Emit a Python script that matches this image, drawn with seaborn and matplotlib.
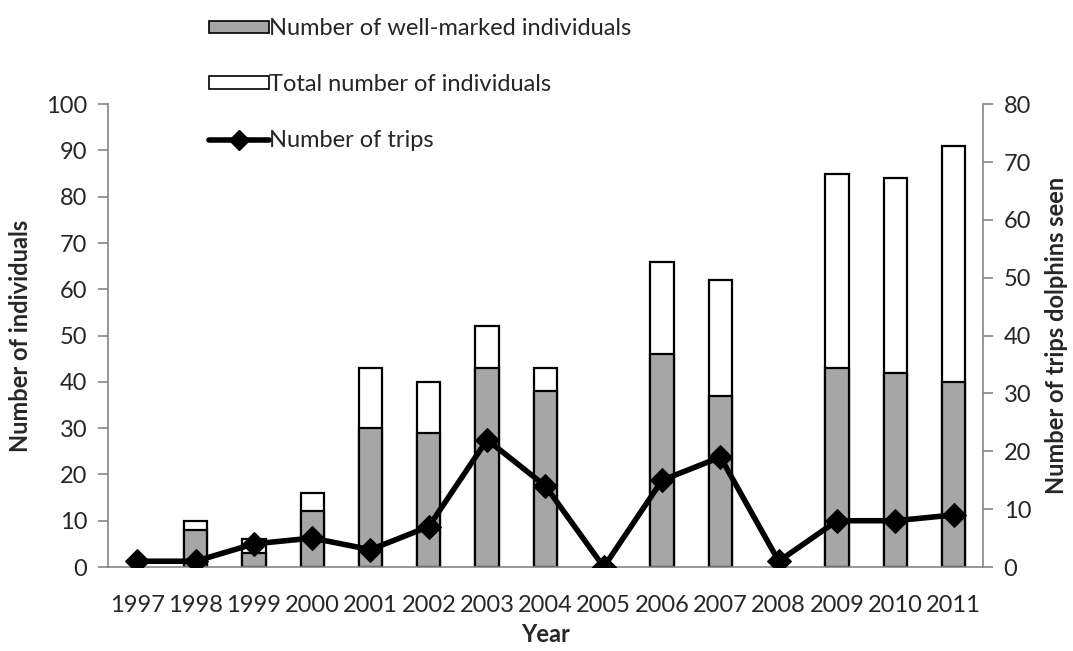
import matplotlib
matplotlib.use("Agg")
import matplotlib.pyplot as plt
from matplotlib.lines import Line2D
from matplotlib.patches import Patch
import numpy as np
import pandas as pd
import seaborn as sns

# data
years = ["1997", "1998", "1999", "2000", "2001", "2002", "2003", "2004",
         "2005", "2006", "2007", "2008", "2009", "2010", "2011"]
total_ind = [np.nan, 10, 6, 16, 43, 40, 52, 43, np.nan, 66, 62, np.nan, 85, 84, 91]
marked_ind = [np.nan, 8, 3, 12, 30, 29, 43, 38, np.nan, 46, 37, np.nan, 43, 42, 40]
trips = [1, 1, 4, 5, 3, 7, 22, 14, 0, 15, 19, 1, 8, 8, 9]

df = pd.DataFrame({"year": years, "total": total_ind, "marked": marked_ind, "trips": trips})

sns.set_style("white")
plt.rcParams["font.family"] = ["Lato", "DejaVu Sans"]

fig, ax = plt.subplots(figsize=(10.73, 6.51), dpi=100)
fig.subplots_adjust(left=0.1007, right=0.916, top=0.840, bottom=0.129)

grey_axis = "#868686"
fs = 17

sns.barplot(data=df, x="year", y="total", order=years, color="white",
            edgecolor="black", linewidth=1.6, width=0.4, ax=ax, saturation=1)
sns.barplot(data=df, x="year", y="marked", order=years, color="#a6a6a6",
            edgecolor="black", linewidth=1.6, width=0.4, ax=ax, saturation=1)

ax.set_ylim(0, 100)
ax.set_yticks(range(0, 101, 10))
ax.set_xlim(-0.5, len(years) - 0.5)
ax.set_xticks(np.arange(len(years)))
ax.set_xticklabels(years)
ax.set_xticks(np.arange(len(years) + 1) - 0.5, minor=True)
ax.tick_params(axis="x", which="major", length=0, labelsize=fs, pad=20)
ax.tick_params(axis="x", which="minor", length=7, color=grey_axis, width=1.2, direction="out")
ax.tick_params(axis="y", length=7, color=grey_axis, width=1.2, labelsize=fs, direction="out", pad=8)
ax.set_xlabel("Year", fontsize=fs, fontweight="bold", labelpad=5)
ax.set_ylabel("Number of individuals", fontsize=fs, fontweight="bold", labelpad=10)

ax2 = ax.twinx()
sns.lineplot(x=np.arange(len(years)), y=df["trips"], ax=ax2, color="black",
             linewidth=4, marker="D", markersize=12, markeredgecolor="black")
ax2.set_ylim(0, 80)
ax2.set_yticks(range(0, 81, 10))
ax2.tick_params(axis="y", length=7, color=grey_axis, width=1.2, labelsize=fs, direction="out", pad=8)
ax2.set_ylabel("Number of trips dolphins seen", fontsize=fs, fontweight="bold", labelpad=10)

for a in (ax, ax2):
    a.spines["top"].set_visible(False)
    for s in ("left", "right", "bottom"):
        a.spines[s].set_color(grey_axis)
        a.spines[s].set_linewidth(1.2)
ax.spines["right"].set_visible(False)
ax2.spines["left"].set_visible(False)
ax2.spines["bottom"].set_visible(False)

handles = [
    Patch(facecolor="#a6a6a6", edgecolor="black", linewidth=1.2),
    Patch(facecolor="white", edgecolor="black", linewidth=1.2),
    Line2D([0], [0], color="black", linewidth=4, marker="D", markersize=10),
]
labels = ["Number of well-marked individuals", "Total number of individuals", "Number of trips"]
fig.legend(handles, labels, loc="upper left", bbox_to_anchor=(0.179, 0.997),
           frameon=False, fontsize=fs, handlelength=2.55, handleheight=0.45,
           handletextpad=0.0, labelspacing=1.47, borderaxespad=0.3)

fig.savefig("out.png", dpi=100)
